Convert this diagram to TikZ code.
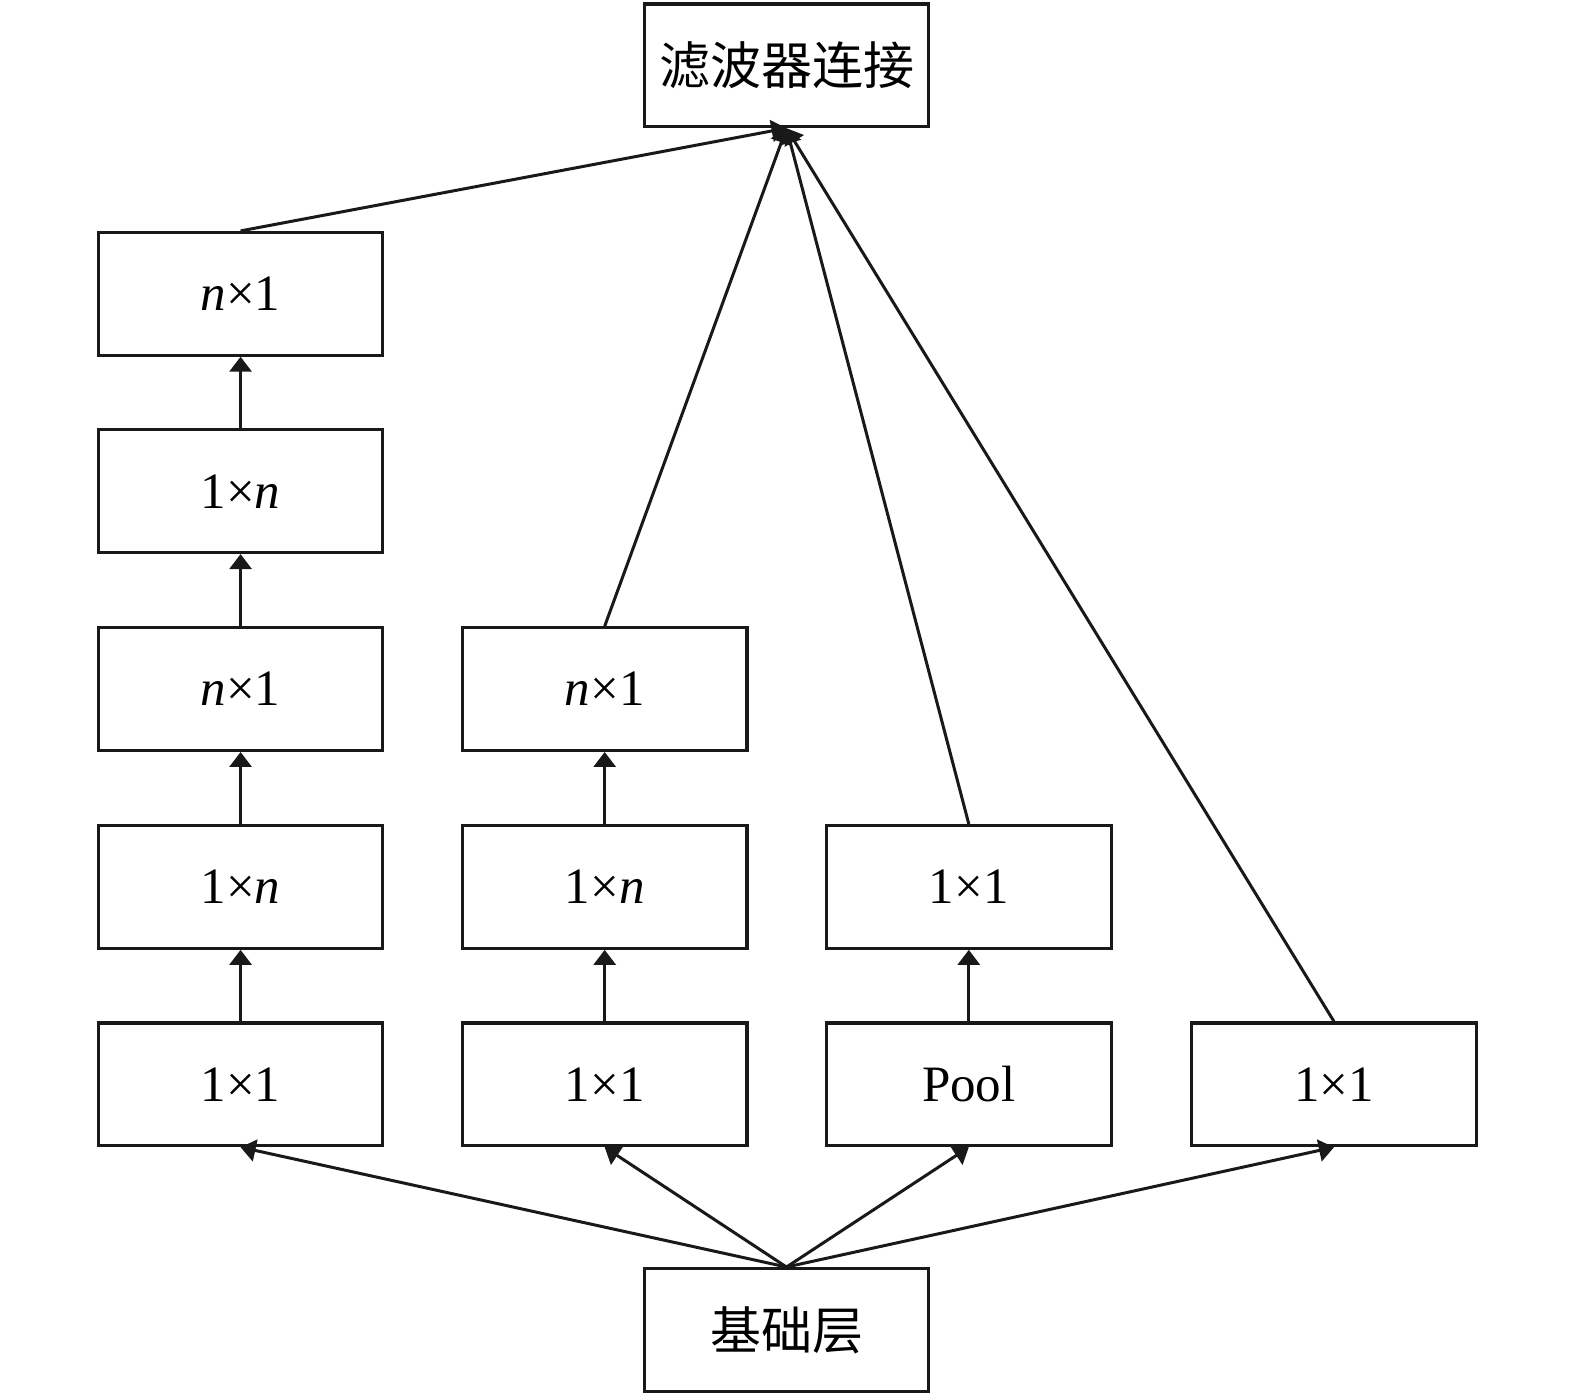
\documentclass[tikz,border=0pt]{standalone}
\usepackage{fontspec}
\setmainfont{Liberation Serif}
\newfontfamily\cjk{Noto Sans CJK SC}
\usetikzlibrary{arrows.meta}
\begin{document}
\begin{tikzpicture}[x=0.50223pt,y=-0.50223pt,
  blk/.style={draw=black!90, line width=1.6pt, minimum width=142.3pt, minimum height=61.3pt, inner sep=0pt, font=\fontsize{25.5}{30}\selectfont},
  arr/.style={line width=1.5pt, draw=black!90, -{Triangle[length=7.5pt,width=11pt]}}]
\useasboundingbox (0,0) rectangle (1568,1390);
\node[blk] (top) at (783,65) {\cjk 滤波器连接};
\node[blk] (base) at (783,1324) {\cjk 基础层};
% column 1
\node[blk] (a1) at (239.5,1079.5) {1×1};
\node[blk] (a2) at (239.5,883) {1×\textit{n}};
\node[blk] (a3) at (239.5,686) {\textit{n}×1};
\node[blk] (a4) at (239.5,489) {1×\textit{n}};
\node[blk] (a5) at (239.5,292.5) {\textit{n}×1};
% column 2
\node[blk] (b1) at (602,1079.5) {1×1};
\node[blk] (b2) at (602,883) {1×\textit{n}};
\node[blk] (b3) at (602,686) {\textit{n}×1};
% column 3
\node[blk] (c1) at (964.5,1079.5) {Pool};
\node[blk] (c2) at (964.5,883) {1×1};
% column 4
\node[blk] (d1) at (1328,1079.5) {1×1};
% vertical arrows
\draw[arr] (a1.north) -- (a2.south);
\draw[arr] (a2.north) -- (a3.south);
\draw[arr] (a3.north) -- (a4.south);
\draw[arr] (a4.north) -- (a5.south);
\draw[arr] (b1.north) -- (b2.south);
\draw[arr] (b2.north) -- (b3.south);
\draw[arr] (c1.north) -- (c2.south);
% to top
\draw[arr] (a5.north) -- (top.south);
\draw[arr] (b3.north) -- (top.south);
\draw[arr] (c2.north) -- (top.south);
\draw[arr] (d1.north) -- (top.south);
% from base
\draw[arr] (base.north) -- (a1.south);
\draw[arr] (base.north) -- (b1.south);
\draw[arr] (base.north) -- (c1.south);
\draw[arr] (base.north) -- (d1.south);
\end{tikzpicture}
\end{document}
